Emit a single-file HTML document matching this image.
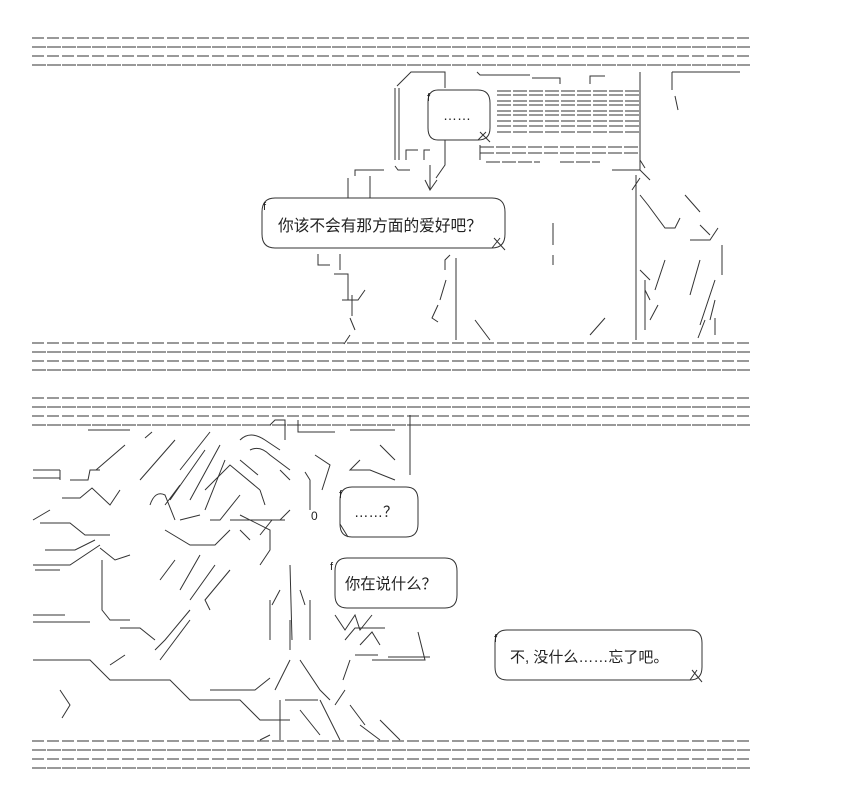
<!DOCTYPE html>
<html><head><meta charset="utf-8"><style>
html,body{margin:0;padding:0;background:#fff;width:848px;height:802px;overflow:hidden}
svg{display:block}
text{font-family:"Liberation Sans","Noto Sans CJK SC",sans-serif;fill:#222}
</style></head><body>
<svg width="848" height="802" viewBox="0 0 848 802" xmlns="http://www.w3.org/2000/svg" stroke="#333" stroke-width="1" fill="none">
<defs>
<g id="blk">
<line x1="32" y1="0" x2="750" y2="0" stroke-dasharray="12,3"/>
<line x1="32" y1="9" x2="750" y2="9" stroke-dasharray="14,1"/>
<line x1="32" y1="18" x2="750" y2="18" stroke-dasharray="12,3"/>
<line x1="32" y1="27" x2="750" y2="27" stroke-dasharray="14,1"/>
</g>
</defs>
<use href="#blk" y="38"/>
<use href="#blk" y="343"/>
<use href="#blk" y="398"/>
<use href="#blk" y="741"/>

<!-- top panel art -->
<path d="M397 86 L411 72 H445 V88"/>
<path d="M395 88 V160 M399 88 V160"/>
<path d="M477 72 L480 75 H530 M532 78 H560 V84 M590 84 V76 H605 M640 72 V160"/>
<g stroke-dasharray="14,2">
<line x1="497" y1="91" x2="640" y2="91"/><line x1="497" y1="95" x2="640" y2="95"/>
<line x1="497" y1="101" x2="640" y2="101"/><line x1="497" y1="105" x2="640" y2="105"/>
<line x1="497" y1="111" x2="640" y2="111"/><line x1="497" y1="115" x2="640" y2="115"/>
<line x1="497" y1="121" x2="640" y2="121"/><line x1="497" y1="126" x2="640" y2="126"/>
<line x1="497" y1="132" x2="640" y2="132"/>
<line x1="480" y1="147" x2="640" y2="147"/><line x1="480" y1="153" x2="640" y2="153"/>
<line x1="486" y1="162" x2="540" y2="162"/><line x1="560" y1="162" x2="600" y2="162"/>
</g>
<path d="M480 145 V160 M640 160 L645 168 M612 170 H640 V160 M640 170 L650 180 M636 175 V340 M640 178 L632 190"/>
<path d="M672 72 H740 M672 72 V90 M675 96 L678 110"/>
<path d="M406 160 V150 H418 M424 160 V150 H430 M445 140 V165 L436 178 M430 165 V190 M425 180 L430 190 L437 180 M410 170 H398 L395 166 M384 170 H355 V176 M348 178 V198 M370 176 V198 M340 198 H380"/>
<path d="M318 254 V265 H330 M340 254 V270 M334 274 H348 V300 M352 295 V316 M342 300 H358 L365 290 M350 318 L355 330 M350 335 L344 344"/>
<path d="M450 255 L445 260 V270 M456 258 V340 M446 280 L440 300 M438 305 L432 318 L438 322 M475 320 L490 340 M590 335 L605 318"/>
<path d="M553 223 V245 M553 255 V265"/>
<path d="M640 195 L648 205 L665 228 H675 L680 218 M685 195 L700 212 M700 225 L710 235 M690 240 H710 L718 228 M722 245 V275 M665 260 L655 290 M700 260 L690 295 M715 280 L700 325 M715 300 L710 320 M715 318 V335 M705 320 L698 338 M640 270 L650 280 M645 290 L650 300 M658 305 L650 320 M645 280 V330"/>

<!-- bubbles top -->
<path d="M438 90 H478 Q490 90 490 103 V128 Q490 140 478 140 H438 Q428 140 428 128 V102 Q428 90 438 90 Z"/>
<path d="M478 140 L486 132 M480 132 L490 142"/>
<text x="443" y="120" font-size="14" stroke="none">……</text>
<text x="427" y="101" font-size="11" stroke="none">f</text>

<path d="M275 198 H492 Q505 198 505 212 V234 Q505 248 492 248 H275 Q262 248 262 234 V212 Q262 198 275 198 Z"/>
<path d="M492 248 L500 238 M494 238 L505 250"/>
<text x="263" y="210" font-size="11" stroke="none">f</text>
<text x="278" y="231" font-size="15.7" stroke="none">你该不会有那方面的爱好吧？</text>

<!-- bottom panel art -->
<path d="M88 430 H130 M145 438 L152 432 M96 470 L125 445 M70 480 H88 L90 470 H100 M33 470 H60 M33 478 H60 M60 480 V470 M62 498 H80 L92 488 L110 505 L120 490 M33 520 L50 510 M40 523 H70 L85 535 H110 M45 550 H75 L95 540 M33 565 H70 L100 545 M35 570 H60 M100 548 L115 560 L130 555 M102 560 V610 L110 620 H130"/>
<path d="M175 440 L140 480 M210 432 L180 470 M180 485 L165 505 M150 505 Q155 490 165 495 L175 520 M205 450 L170 500 M220 445 L190 500 M225 460 L205 510 M240 495 L220 520 H210 M200 515 L180 520 M165 530 L190 545 H215 L230 530 M240 530 L250 540 M260 535 L272 520 H285 M230 520 H280 L290 510"/>
<path d="M240 440 Q250 430 265 440 L280 450 M250 450 Q260 445 270 455 L290 470 M240 460 L258 475 M205 490 L230 465 L260 490 M240 515 L270 530 V550 L260 565 M260 490 L265 505 M280 470 L290 480"/>
<path d="M200 555 L180 590 M215 565 L190 600 M230 570 L205 600 L210 610 M190 610 L165 640 L155 650 M175 560 L160 580 M290 565 L292 640 M280 590 L272 605 M300 590 L305 605 M270 600 V640 M310 600 V640"/>
<path d="M265 425 H270 L275 420 H285 V440 M298 420 V432 H335 M350 430 H395 M380 445 L395 460 M360 460 L350 470 H370 L395 480 M410 415 V475"/>
<path d="M305 472 L310 480 V510 M315 455 L330 465 L322 490"/>
<text x="311" y="520" font-size="12" stroke="none">0</text>
<path d="M33 615 H65 M33 622 H90 M120 628 H140 L155 640 M190 620 L175 640 L160 660 M125 655 L110 665 M33 660 H90 L110 680 H170 L190 700 H240 L260 720 H290 M60 690 L70 705 L62 718 M210 690 H255 L270 678"/>
<path d="M290 620 V650 M290 660 L275 690 M300 660 L320 690 L330 700 M335 705 L345 690 M343 680 L350 660 M280 700 V740 M285 700 H318 M300 710 L320 735 M320 700 L340 740 M350 705 L365 725 M360 725 L380 740 M380 720 L400 740 M270 735 L260 740"/>
<path d="M335 615 L345 630 L355 615 L360 630 L372 615 M345 640 L355 628 H385 M360 645 L372 632 L380 645 M355 655 H378 M388 657 H430 M372 660 H425 L418 632"/>

<!-- bubbles bottom -->
<path d="M352 487 H406 Q418 487 418 500 V524 Q418 537 406 537 H352 Q340 537 340 524 V500 Q340 487 352 487 Z"/>
<path d="M340 524 L348 537"/>
<text x="339" y="498" font-size="11" stroke="none">f</text>
<text x="354" y="517" font-size="14.5" stroke="none">……？</text>

<path d="M347 558 H445 Q457 558 457 571 V595 Q457 608 445 608 H347 Q335 608 335 595 V571 Q335 558 347 558 Z"/>
<text x="330" y="570" font-size="11" stroke="none">f</text>
<text x="345" y="589" font-size="15.3" stroke="none">你在说什么？</text>

<path d="M507 630 H690 Q702 630 702 643 V667 Q702 680 690 680 H507 Q495 680 495 667 V643 Q495 630 507 630 Z"/>
<path d="M690 680 L697 670 M692 670 L702 682"/>
<text x="494" y="642" font-size="11" stroke="none">f</text>
<text x="510" y="662" font-size="15" stroke="none">不, 没什么……忘了吧。</text>
</svg>
</body></html>
